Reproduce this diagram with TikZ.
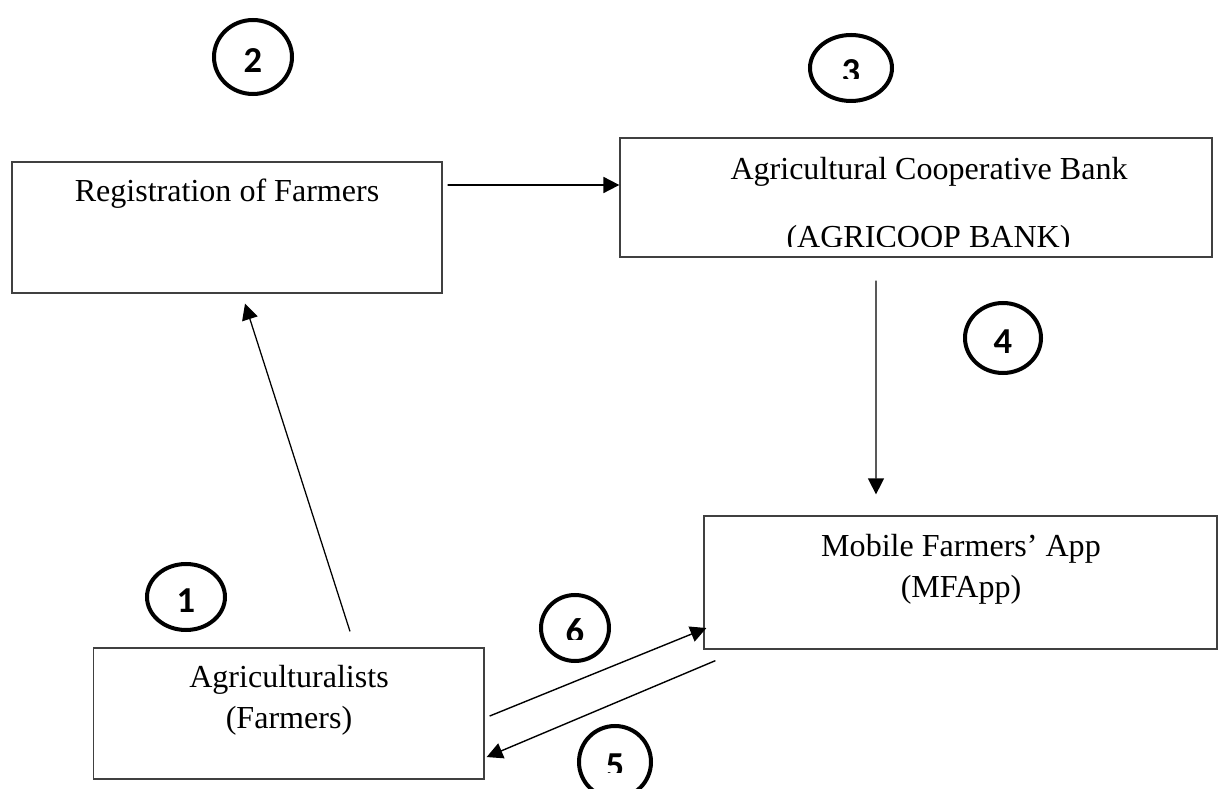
\documentclass[tikz,border=0pt]{standalone}
\usepackage{fontspec}
\setmainfont{Liberation Serif}
\newfontfamily\numfont{Carlito}
\usetikzlibrary{arrows.meta,shapes.geometric}
\definecolor{boxline}{HTML}{404040}
\definecolor{ringink}{HTML}{000000}
\tikzset{
  procbox/.style={rectangle, draw=boxline, line width=0.9pt, inner sep=0pt},
  boxtxt/.style={font=\fontsize{22.8pt}{28pt}\selectfont, inner sep=0pt, anchor=base},
  numring/.style={ellipse, draw=ringink, line width=2.85pt, inner sep=0pt},
  numtxt/.style={font=\numfont\bfseries\fontsize{26pt}{26pt}\selectfont, text height=0.78cm, text depth=0pt, inner sep=0pt},
  flow/.style={-{Triangle[length=0.4cm,width=0.4cm]}, draw=black, line width=0.9pt},
  flowbold/.style={flow, line width=1.3pt},
}
\begin{document}
\begin{tikzpicture}[x=1cm,y=1cm]
  \useasboundingbox[fill=white] (0,0) rectangle (30.700,-19.725);
  % boxes
  \node[procbox, minimum width=10.750cm, minimum height=3.275cm] (reg) at (5.675,-5.688) {};
  \node[procbox, minimum width=14.800cm, minimum height=2.975cm] (bank) at (22.900,-4.938) {};
  \node[procbox, minimum width=12.825cm, minimum height=3.325cm] (app) at (24.013,-14.563) {};
  \node[procbox, minimum width=9.763cm, minimum height=3.275cm] (farm) at (7.219,-17.838) {};
  % box texts
  \node[boxtxt] (regtxt) at (5.675,-5.050) {Registration of Farmers};
  \node[boxtxt] (banktxt) at (23.225,-4.500) {Agricultural Cooperative Bank};
  \begin{scope}
    \clip (15.500,-5.500) rectangle (30.700,-6.175);
    \node[boxtxt] (bankabbr) at (23.213,-6.200) {(AGRICOOP BANK)};
  \end{scope}
  \node[boxtxt] (apptxt) at (24.025,-13.925) {Mobile Farmers' App};
  \node[boxtxt] (appabbr) at (24.025,-14.950) {(MFApp)};
  \node[boxtxt] (farmtxt) at (7.225,-17.200) {Agriculturalists};
  \node[boxtxt] (farmabbr) at (7.225,-18.200) {(Farmers)};
  % step rings
  \node[numring, numtxt, minimum width=1.950cm, minimum height=1.650cm] (n1) at (4.650,-14.925) {1};
  \node[numring, numtxt, minimum width=1.950cm, minimum height=1.850cm] (n2) at (6.325,-1.425) {2};
  \node[numring, minimum width=2.050cm, minimum height=1.650cm] (n3) at (21.275,-1.700) {};
  \node[numring, numtxt, minimum width=1.900cm, minimum height=1.750cm] (n4) at (25.075,-8.450) {4};
  \node[numring, minimum width=1.800cm, minimum height=1.800cm] (n5) at (15.375,-19.050) {};
  \node[numring, minimum width=1.700cm, minimum height=1.650cm] (n6) at (14.375,-15.700) {};
  \begin{scope}
    \clip (20.000,-1.000) rectangle (22.500,-1.975);
    \node[numtxt] (n3t) at (n3) {3};
  \end{scope}
  \begin{scope}
    \clip (14.000,-18.500) rectangle (16.500,-19.300);
    \node[numtxt] (n5t) at (n5) {5};
  \end{scope}
  \begin{scope}
    \clip (13.000,-15.000) rectangle (15.500,-16.000);
    \node[numtxt] (n6t) at (n6) {6};
  \end{scope}
  % connectors
  \draw[flowbold] ([xshift=0.125cm,yshift=1.063cm]reg.east) -- ([yshift=0.313cm]bank.west);
  \draw[flow] ([xshift=-1.000cm,yshift=-0.575cm]bank.south) -- ([xshift=-2.113cm,yshift=0.525cm]app.north);
  \draw[flow] ([xshift=1.531cm,yshift=0.400cm]farm.north) -- ([xshift=0.450cm,yshift=-0.250cm]reg.south);
  \draw[flow, line width=1.0pt] ([xshift=0.125cm,yshift=-0.063cm]farm.east) -- ([xshift=0.075cm,yshift=-1.138cm]app.west);
  \draw[flow, line width=1.0pt] ([xshift=0.300cm,yshift=-0.275cm]app.south west) -- ([xshift=0.050cm,yshift=-1.088cm]farm.east);
\end{tikzpicture}
\end{document}
